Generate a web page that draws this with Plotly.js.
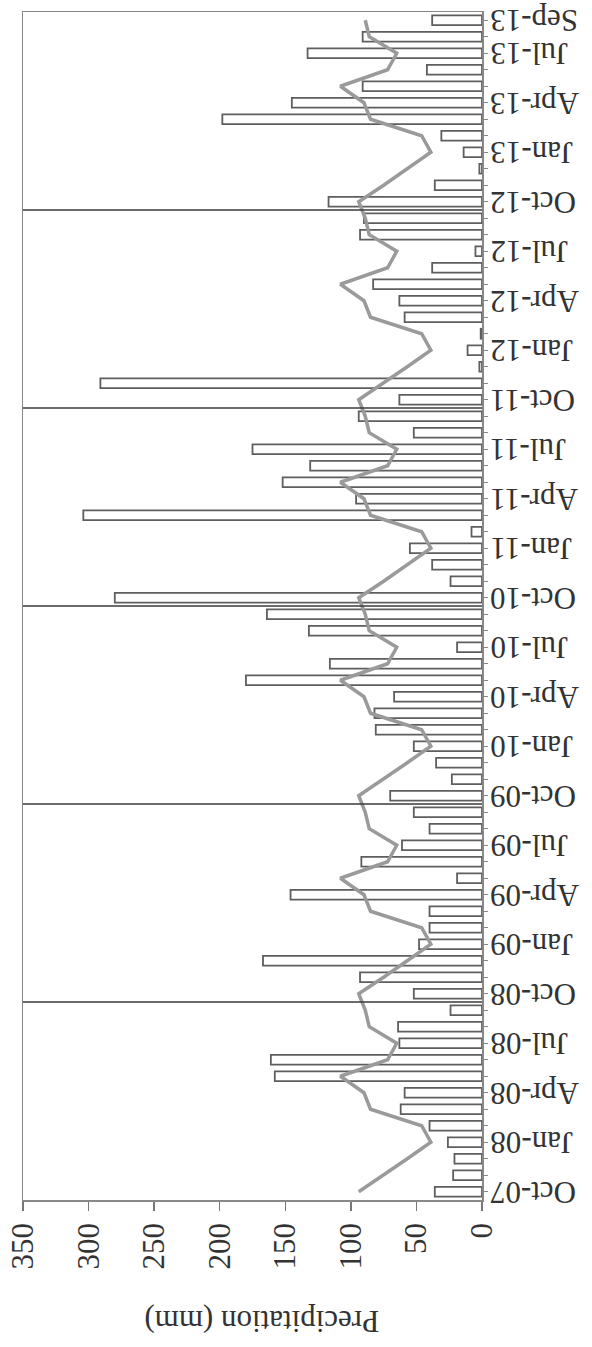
<!DOCTYPE html>
<html>
<head>
<meta charset="utf-8">
<script src="https://cdn.plot.ly/plotly-3.0.1.min.js"></script>
<style>html,body{margin:0;padding:0;background:#fff;}#chart{width:592px;height:1347px;}</style>
</head>
<body>
<div id="chart"></div>
<script>
const months = ["Oct-07","Nov-07","Dec-07","Jan-08","Feb-08","Mar-08","Apr-08","May-08","Jun-08","Jul-08","Aug-08","Sep-08",
"Oct-08","Nov-08","Dec-08","Jan-09","Feb-09","Mar-09","Apr-09","May-09","Jun-09","Jul-09","Aug-09","Sep-09",
"Oct-09","Nov-09","Dec-09","Jan-10","Feb-10","Mar-10","Apr-10","May-10","Jun-10","Jul-10","Aug-10","Sep-10",
"Oct-10","Nov-10","Dec-10","Jan-11","Feb-11","Mar-11","Apr-11","May-11","Jun-11","Jul-11","Aug-11","Sep-11",
"Oct-11","Nov-11","Dec-11","Jan-12","Feb-12","Mar-12","Apr-12","May-12","Jun-12","Jul-12","Aug-12","Sep-12",
"Oct-12","Nov-12","Dec-12","Jan-13","Feb-13","Mar-13","Apr-13","May-13","Jun-13","Jul-13","Aug-13","Sep-13"];

const precipitation = [36,22,21,26,40,62,59,158,161,63,64,24,
52,93,167,48,40,40,146,19,92,61,40,52,
70,23,35,52,81,82,67,180,116,19,132,164,
280,24,38,55,8,304,96,152,131,175,52,94,
63,291,2,11,1,59,63,83,38,5,93,90,
117,36,2,14,31,198,145,91,42,133,91,38];

const monthlyMean = [94,75,57,39,46,85,90,108,72,65,86,89,
94,75,57,39,46,85,90,108,72,65,86,89,
94,75,57,39,46,85,90,108,72,65,86,89,
94,75,57,39,46,85,90,108,72,65,86,89,
94,75,57,39,46,85,90,108,72,65,86,89,
94,75,57,39,46,85,90,108,72,65,86,89];

const labelledMonths = ["Oct-07","Jan-08","Apr-08","Jul-08","Oct-08","Jan-09","Apr-09","Jul-09","Oct-09","Jan-10","Apr-10","Jul-10",
"Oct-10","Jan-11","Apr-11","Jul-11","Oct-11","Jan-12","Apr-12","Jul-12","Oct-12","Jan-13","Apr-13","Jul-13","Sep-13"];

const valueTicks = [0,50,100,150,200,250,300,350];
const axisTitle = "Precipitation (mm)";

const FONT = "Liberation Serif, Times New Roman, serif";

const bars = {
  type: "bar", orientation: "h",
  x: precipitation, y: months,
  width: 0.6,
  marker: {color: "#ffffff", line: {color: "#5e5e5e", width: 1.8}},
  hoverinfo: "x+y"
};
const meanLine = {
  type: "scatter", mode: "lines",
  x: monthlyMean, y: months,
  line: {color: "#9a9a9a", width: 3.5},
  hoverinfo: "x+y"
};

// water-year separators between Sep and Oct
const shapes = [];
months.forEach((m, i) => {
  if (i > 0 && m.startsWith("Oct")) {
    shapes.push({type: "line", xref: "paper", yref: "y", x0: 0, x1: 1, y0: i - 0.5, y1: i - 0.5,
      line: {color: "#3a3a3a", width: 1.5}, layer: "above"});
  }
});

// month labels, drawn upside down to the right of the category axis
const annotations = labelledMonths.map(m => ({
  text: m, xref: "paper", yref: "y", x: 1, y: m,
  xanchor: "left", yanchor: "middle", xshift: 6,
  showarrow: false, textangle: 180,
  font: {family: FONT, size: 31, color: "#333"}
}));
annotations.push({
  text: axisTitle, xref: "paper", yref: "paper", x: 0.52, y: -0.1027,
  xanchor: "center", yanchor: "middle",
  showarrow: false, textangle: 180,
  font: {family: FONT, size: 31, color: "#333"}
});

const layout = {
  width: 592, height: 1347,
  margin: {l: 23, r: 110, t: 12, b: 147},
  paper_bgcolor: "#fff", plot_bgcolor: "#fff",
  showlegend: false,
  font: {family: FONT, color: "#333", size: 31},
  xaxis: {
    range: [350, 0], autorange: false,
    tickvals: valueTicks, ticktext: valueTicks.map(String),
    tickangle: -90, ticks: "outside", ticklen: 9, tickwidth: 1.5, tickcolor: "#777",
    showline: true, linecolor: "#888", linewidth: 1.5, mirror: true,
    showgrid: false, zeroline: false,
    tickfont: {family: FONT, size: 31, color: "#333"}
  },
  yaxis: {
    type: "category", categoryarray: months,
    range: [-0.5, months.length - 0.5], autorange: false,
    side: "right",
    tickvals: months, showticklabels: false,
    ticks: "outside", ticklen: 4, tickwidth: 1, tickcolor: "#888",
    showline: true, linecolor: "#888", linewidth: 1.5, mirror: true,
    showgrid: false, zeroline: false
  },
  shapes: shapes,
  annotations: annotations
};

Plotly.newPlot("chart", [bars, meanLine], layout, {staticPlot: true});
</script>
</body>
</html>
